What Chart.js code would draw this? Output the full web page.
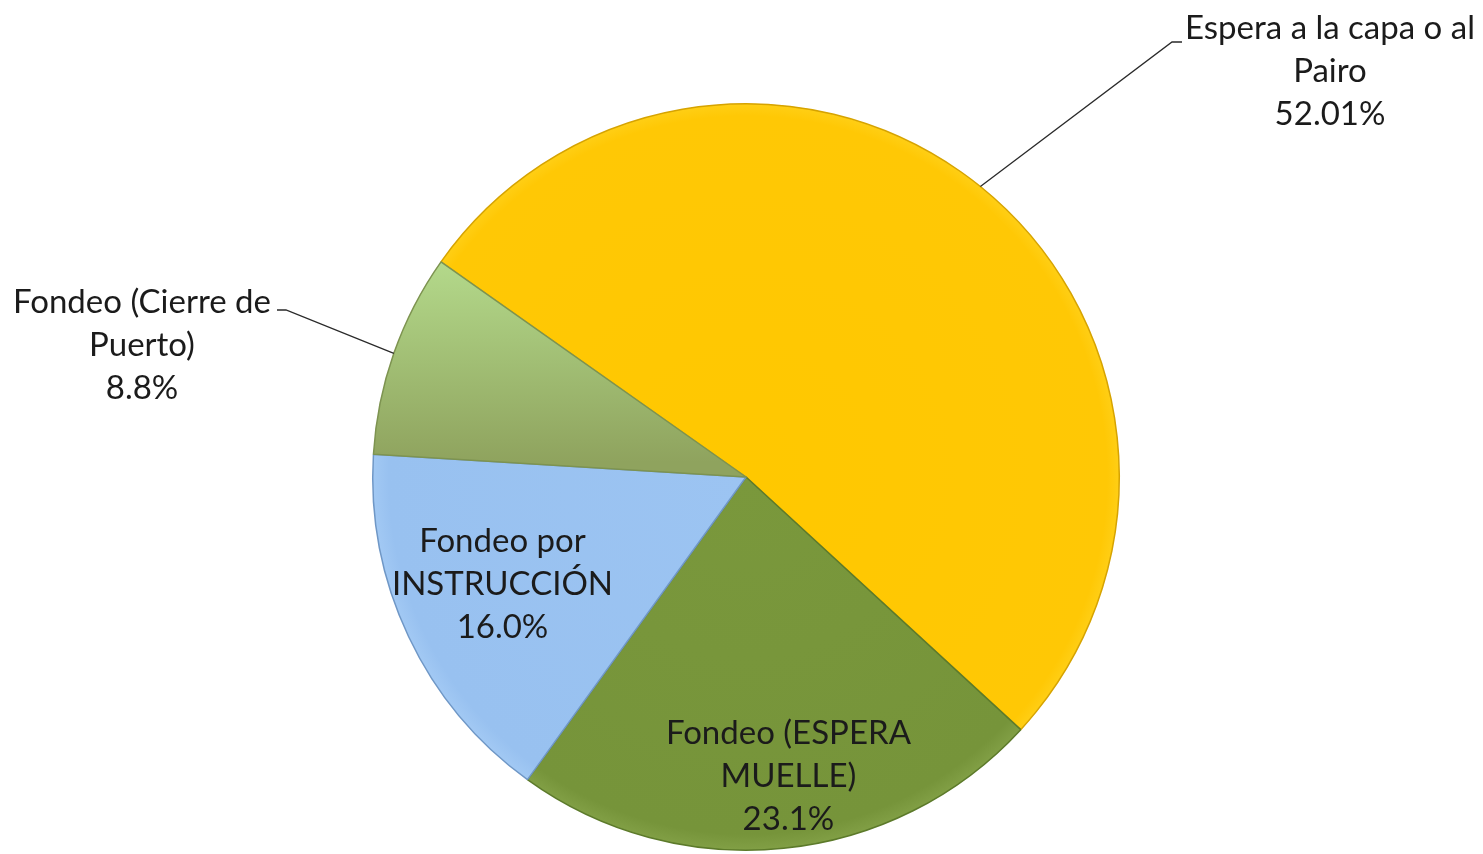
<!DOCTYPE html>
<html>
<head>
<meta charset="utf-8">
<script src="https://cdn.jsdelivr.net/npm/chart.js@4.4.1/dist/chart.umd.min.js"></script>
<style>
  html, body { margin: 0; padding: 0; background: #ffffff; }
  canvas { display: block; }
</style>
</head>
<body>
<canvas id="c" width="1483" height="854"></canvas>
<script>
// ---- data ----
const categories = ['Espera a la capa o al Pairo', 'Fondeo (ESPERA MUELLE)', 'Fondeo por INSTRUCCIÓN', 'Fondeo (Cierre de Puerto)'];
const labelLines = [['Espera a la capa o al', 'Pairo'], ['Fondeo (ESPERA', 'MUELLE)'], ['Fondeo por', 'INSTRUCCIÓN'], ['Fondeo (Cierre de', 'Puerto)']];
const values = [52.01, 23.1, 16.0, 8.8];
const valueLabels = ['52.01%', '23.1%', '16.0%', '8.8%'];

// ---- styles ----
const FONT = '33px Lato, "Open Sans", sans-serif';
const LINE_H = 43;
const TEXT_COLOR = '#1b1b1b';
const borderColors = ['#D6A300', '#5C7A2A', '#6F97C6', '#7D9350'];

function sliceFill(ctx) {
  const chart = ctx.chart;
  const area = chart.chartArea;
  if (!area) return '#ccc';
  const c = chart.ctx;
  const i = ctx.dataIndex;
  if (i === 0) {
    const g = c.createRadialGradient(746, 477, 0, 746, 477, 380);
    g.addColorStop(0, '#FFC800');
    g.addColorStop(0.95, '#FFC805');
    g.addColorStop(1, '#FFD21E');
    return g;
  }
  if (i === 1) {
    const g = c.createRadialGradient(746, 477, 0, 746, 477, 380);
    g.addColorStop(0, '#7A983C');
    g.addColorStop(0.94, '#76943A');
    g.addColorStop(1, '#86A44A');
    return g;
  }
  if (i === 2) {
    const g = c.createRadialGradient(746, 477, 0, 746, 477, 380);
    g.addColorStop(0, '#9CC4F2');
    g.addColorStop(0.94, '#98C1F0');
    g.addColorStop(1, '#A6CCF5');
    return g;
  }
  const g = c.createLinearGradient(0, 265, 0, 462);
  g.addColorStop(0, '#B3D88A');
  g.addColorStop(0.5, '#A1BE74');
  g.addColorStop(1, '#8FA35E');
  return g;
}

const labelPlugin = {
  id: 'sliceLabels',
  afterDatasetsDraw(chart, args, opts) {
    const meta = chart.getDatasetMeta(0);
    const c = chart.ctx;
    c.save();
    c.font = FONT;
    c.fillStyle = TEXT_COLOR;
    c.textAlign = 'center';
    c.textBaseline = 'middle';
    meta.data.forEach((arc, i) => {
      const p = arc.getProps(['x', 'y', 'startAngle', 'endAngle', 'outerRadius'], true);
      const mid = (p.startAngle + p.endAngle) / 2;
      const cfg = opts.place[i];
      const lines = labelLines[i].concat([valueLabels[i]]);
      if (cfg.inside) {
        const cx = p.x + Math.cos(mid) * p.outerRadius * cfg.r + (cfg.dx || 0);
        const cy = p.y + Math.sin(mid) * p.outerRadius * cfg.r + (cfg.dy || 0);
        lines.forEach((t, k) => c.fillText(t, cx, cy + (k - 1) * LINE_H));
      } else {
        const ex = p.x + Math.cos(mid) * p.outerRadius;
        const ey = p.y + Math.sin(mid) * p.outerRadius;
        c.beginPath();
        c.strokeStyle = '#2a2a2a';
        c.lineWidth = 1.3;
        c.moveTo(ex, ey);
        c.lineTo(cfg.elbow[0], cfg.elbow[1]);
        c.lineTo(cfg.tick[0], cfg.tick[1]);
        c.stroke();
        lines.forEach((t, k) => c.fillText(t, cfg.text[0], cfg.text[1] + k * LINE_H));
      }
    });
    c.restore();
  }
};

new Chart(document.getElementById('c'), {
  type: 'pie',
  data: {
    labels: categories,
    datasets: [{
      data: values,
      backgroundColor: sliceFill,
      borderColor: borderColors,
      borderWidth: 1.5,
      hoverOffset: 0
    }]
  },
  options: {
    responsive: false,
    animation: false,
    devicePixelRatio: 1,
    rotation: 305.2,
    layout: { padding: { left: 9, right: 0, top: 103, bottom: 3 } },
    plugins: {
      legend: { display: false },
      tooltip: { enabled: false },
      sliceLabels: {
        place: [
          { inside: false, elbow: [1172, 42], tick: [1182, 42], text: [1330, 28] },
          { inside: true, r: 0.81, dx: 12, dy: -1 },
          { inside: true, r: 0.71, dx: -4, dy: -6 },
          { inside: false, elbow: [286, 310], tick: [277, 310], text: [142, 302] }
        ]
      }
    }
  },
  plugins: [labelPlugin]
});
</script>
</body>
</html>
